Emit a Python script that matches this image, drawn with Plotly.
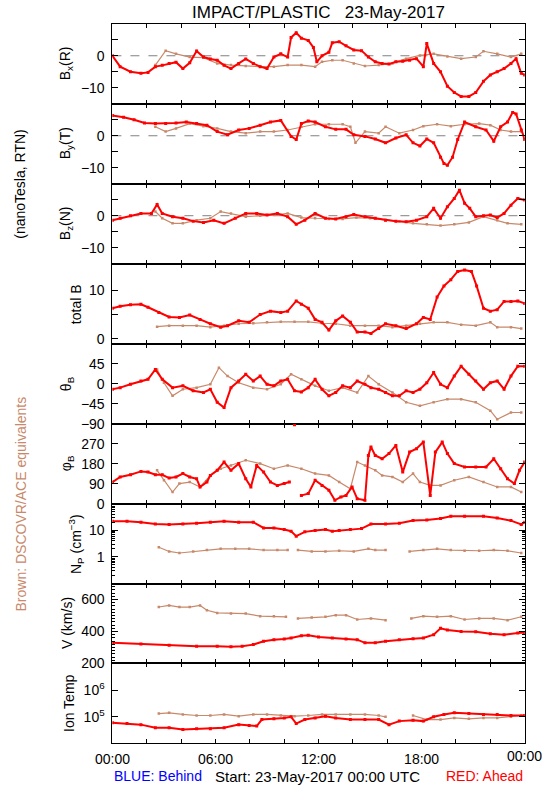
import plotly.graph_objects as go

# ---------------- data (hours since 23-May-2017 00:00 UTC) ----------------
bx_red_t = [0, 0.45, 1.05, 1.66, 2.07, 2.5, 2.9, 3.3, 3.7, 4.1, 4.5, 4.9, 5.3, 5.7, 6.1, 6.5, 6.9, 7.35, 7.76, 8.2, 8.6, 9.0, 9.4, 9.8, 10.2, 10.4, 10.7, 11.0, 11.4, 11.7, 11.9, 12.2, 12.6, 12.8, 13.2, 13.6, 14.05, 14.5, 14.9, 15.3, 15.7, 16.1, 16.5, 16.9, 17.3, 17.7, 18.1, 18.3, 18.7, 19.1, 19.5, 19.9, 20.3, 20.75, 21.15, 21.6, 22.0, 22.4, 22.8, 23.2, 23.5, 23.8, 24.0]
bx_red = [0, -3.4, -5, -5.5, -5.2, -3.4, -3, -2.4, -2, -4, -2.2, 1.5, -0.4, -1, -1.4, -3, -4, -2.4, -1, -2.4, -3.4, -4, -0.4, 0.6, -0.4, 5.7, 7.2, 5.5, 4.8, 2.6, -1.9, 0, 1.1, 4.1, 4.4, 3.1, 1.8, 1.6, -0.4, -1.9, -2.4, -2.6, -1.9, -1.7, -1.4, -0.9, -3.4, 3.8, -2.4, -5, -9.5, -11.5, -12.7, -12.7, -11.5, -8, -6, -5, -4, -2.4, -0.9, -5.5, -6]
bx_brn_t = [2.5, 3.1, 3.7, 4.5, 5.3, 6.1, 6.9, 7.76, 8.6, 9.4, 10.2, 11.0, 11.8, 12.2, 12.8, 13.4, 14.05, 14.7, 15.5, 16.3, 17.1, 17.9, 18.7, 19.5, 20.3, 21.15, 21.6, 22.4, 23.2, 23.8]
bx_brn = [-2.9, 1.6, 0.6, -0.4, -0.6, -2.4, -2.9, -3.2, -3.4, -3.4, -2.9, -2.9, -3.4, -1.9, -1.4, -1.4, -2.4, -3.2, -2.9, -2.4, -0.9, 0.1, 0.6, -0.2, -0.9, -0.4, 1.4, 0.6, -0.4, 0.6]

by_red_t = [0, 0.65, 1.26, 1.87, 2.5, 3.1, 3.7, 4.3, 4.9, 5.5, 6.1, 6.7, 7.35, 7.96, 8.6, 9.2, 9.8, 10.4, 10.7, 11.0, 11.4, 11.8, 12.4, 13.0, 13.6, 14.05, 14.7, 15.3, 15.9, 16.5, 17.1, 17.5, 17.9, 18.3, 18.7, 19.1, 19.3, 19.5, 19.8, 20.1, 20.5, 21.15, 21.75, 22.2, 22.6, 23.0, 23.3, 23.5, 23.8, 24.0]
by_red = [6.3, 5.8, 5, 4, 3.8, 3.8, 4, 4.3, 3.8, 3.3, 1.3, 0.3, 1.8, 2.3, 3.3, 4.3, 4.8, -0.2, -1.2, 3.8, 4.6, 4.3, 2.8, 2, 2, 0.3, -0.2, -1, -2.2, -0.7, 0.3, -2.2, -3.2, -1, -2.2, -6.7, -8.7, -9.2, -6.7, -1.2, 4.3, 2.8, 1.8, -1.7, 2.8, 4.3, 7.3, 6.8, 1.8, -1.2]
by_brn_t = [2.5, 3.1, 3.7, 4.5, 5.3, 6.1, 6.9, 7.76, 8.6, 9.4, 10.2, 11.0, 11.8, 12.6, 13.4, 13.85, 14.15, 14.7, 15.5, 15.9, 16.7, 17.5, 18.1, 18.9, 19.7, 20.5, 21.35, 22.0, 22.6, 23.2, 23.8]
by_brn = [2.8, 1.3, 2.3, 3.8, 3, 2.3, 1.3, 0.8, 1.3, 1.3, 1.8, 2.8, 3.6, 3.6, 3.6, 2.8, -2.2, 1.3, 0.8, 2.8, 0.8, 1.8, 3, 3.6, 3, 3.6, 3.8, 3.3, 1.8, 1.3, 1.3]

bz_red_t = [0, 0.45, 1.05, 1.66, 2.27, 2.6, 2.9, 3.5, 4.1, 4.7, 5.3, 5.9, 6.5, 7.15, 7.76, 8.4, 9.0, 9.6, 10.2, 10.7, 11.2, 11.8, 12.4, 13.0, 13.6, 14.05, 14.7, 15.3, 15.9, 16.5, 17.1, 17.7, 18.3, 18.7, 19.1, 19.5, 19.9, 20.2, 20.5, 20.8, 21.15, 21.6, 22.0, 22.4, 22.8, 23.2, 23.6, 24.0]
bz_red = [-1.4, -0.8, 0, 0.7, 0.7, 3.5, 0.7, -0.3, -0.8, -1.7, -2.1, -1.4, -2.4, -0.8, 0.7, 0.7, 0.2, 0.7, -0.3, -2.7, -1.4, 0.7, -0.8, -1, -0.3, 0.4, -0.3, -0.8, -1.4, -1.7, -1.9, -1.4, -0.3, 2.3, -0.8, 2.8, 5.4, 8, 3.9, 2.3, -0.3, 0, 0.2, -0.6, 0.7, 3.3, 5.4, 4.9]
bz_brn_t = [2.5, 2.9, 3.5, 4.1, 4.9, 5.7, 6.3, 6.9, 7.76, 8.6, 9.4, 10.2, 11.0, 11.8, 12.6, 13.4, 14.2, 15.0, 15.9, 16.7, 17.5, 18.3, 19.1, 19.9, 20.75, 21.6, 22.4, 23.0, 23.8]
bz_brn = [1.3, -0.8, -2.4, -2.4, -1.4, -0.8, 1.3, 0.7, -0.3, 0, 0.2, 0.7, -0.6, -0.8, -1, -1, -0.6, -0.8, -1.4, -1.7, -2.4, -2.7, -3.1, -2.7, -2.1, -0.3, -1.4, -2.4, -2.7]

bt_red_t = [0, 0.45, 1.05, 1.66, 2.07, 2.7, 3.3, 3.9, 4.5, 5.1, 5.7, 6.3, 6.7, 7.35, 7.96, 8.6, 9.2, 9.8, 10.2, 10.7, 11.0, 11.4, 11.8, 12.2, 12.6, 13.0, 13.4, 13.85, 14.25, 14.7, 15.05, 15.5, 15.9, 16.5, 17.1, 17.7, 18.1, 18.5, 18.9, 19.3, 19.7, 20.1, 20.5, 20.9, 21.2, 21.6, 22.0, 22.4, 22.8, 23.2, 23.6, 24.0]
bt_red = [6.3, 6.7, 7, 7.1, 6.5, 5.4, 4.5, 4.4, 4.9, 4, 3.1, 2.4, 2.7, 3.7, 3.4, 5, 5.7, 5.4, 5.7, 7.8, 7.1, 6.3, 4, 3.4, 1.8, 3.7, 4.7, 3.4, 1.4, 1.4, 1.1, 2.1, 3.1, 2.7, 2.1, 3.1, 4.4, 4, 8.6, 10.9, 12.2, 13.9, 14.2, 13.9, 10.9, 6.3, 5.7, 6, 7.7, 7.7, 7.8, 7.3]
bt_brn_t = [2.6, 3.3, 4.1, 4.9, 5.7, 6.5, 7.35, 8.2, 9.0, 9.8, 10.6, 11.4, 12.2, 13.0, 13.85, 14.7, 15.5, 16.3, 17.1, 17.9, 18.7, 19.5, 20.3, 21.15, 22.0, 22.4, 23.2, 23.8]
bt_brn = [2.5, 2.7, 2.7, 2.7, 2.4, 2.7, 3.1, 3.2, 3.4, 3.5, 3.5, 3.5, 3.2, 3.1, 2.7, 2.7, 2.7, 2.4, 2.7, 3.1, 3.4, 3.4, 2.9, 2.7, 3.4, 2.4, 2.4, 2.1]

th_red_t = [0, 0.45, 1.05, 1.66, 2.07, 2.5, 2.9, 3.5, 4.1, 4.7, 5.3, 5.7, 6.1, 6.5, 6.9, 7.35, 7.76, 8.2, 8.6, 9.0, 9.4, 9.8, 10.2, 10.6, 11.0, 11.4, 11.8, 12.2, 12.6, 13.0, 13.4, 13.85, 14.25, 14.7, 15.05, 15.5, 15.9, 16.3, 16.7, 17.1, 17.5, 17.9, 18.3, 18.7, 19.1, 19.5, 19.9, 20.3, 20.75, 21.15, 21.6, 22.0, 22.4, 22.8, 23.2, 23.6, 24.0]
th_red = [-12.6, -9, -1.5, 6, 9.7, 32, 9.7, -9, -5, -16, -20, -12.6, -42, -54, -9, 6, 21, 6, 17, -1.5, -5, 6, 9.7, -16, -18.6, -9, 9.7, -12.6, -27.5, -20, -5, -9, 6, -1.5, -9, -12.6, -20, -27.5, -27.5, -16, -20, -12.6, 2, 25, -1.5, -9, 17, 39, 21, 6, -12.6, 2, 6, -12.6, 17, 39, 39]
th_brn_t = [2.6, 3.0, 3.5, 4.1, 4.9, 5.7, 6.2, 6.7, 7.35, 8.2, 9.0, 9.8, 10.4, 11.0, 11.8, 12.6, 13.4, 14.25, 14.9, 15.5, 16.3, 17.1, 17.9, 18.7, 19.5, 20.3, 21.15, 22.0, 22.4, 23.2, 23.8]
th_brn = [32, 2, -27.5, -12.6, -9, -1.5, 36, 17, 2, -9, -12.6, -1.5, 21, 9.7, -5, -16, -9, -20, 17, -1.5, -20, -42, -50, -42, -35, -35, -42, -61, -80, -65, -65]

ph_red_t = [0, 0.45, 1.05, 1.66, 2.07, 2.5, 2.9, 3.3, 3.7, 4.1, 4.5, 4.9, 5.1, 5.5, 5.7, 6.1, 6.5, 6.9, 7.35, 7.76, 8.06, 8.4, 8.8, 9.2, 9.6, 10.0, 10.3, 10.45, 10.6, 10.75, 11.0, 11.4, 11.8, 12.2, 12.6, 12.95, 13.3, 13.6, 13.95, 14.25, 14.7, 14.9, 15.05, 15.3, 15.7, 16.1, 16.5, 16.9, 17.3, 17.7, 18.1, 18.5, 18.8, 19.2, 19.5, 19.9, 20.5, 21.15, 21.75, 22.2, 22.6, 23.0, 23.4, 23.7, 24.0]
ph_red = [97, 120, 130, 145, 142, 130, 130, 115, 120, 135, 120, 112, 75, 97, 127, 150, 187, 150, 180, 112, 75, 172, 142, 97, 82, 90, 97, None, 355, None, 37, 45, 105, 82, 60, 15, 30, 37, 75, 22, 15, 217, 255, 217, 202, 225, 262, 142, 232, 247, 277, 37, 232, 277, 225, 180, 165, 165, 165, 202, 157, 112, 90, 150, 187]
ph_brn_t = [2.6, 3.0, 3.5, 3.9, 4.5, 5.1, 5.7, 6.3, 6.9, 7.76, 8.6, 9.4, 10.2, 11.0, 11.8, 12.6, 13.2, 13.85, 14.25, 14.7, 15.3, 15.7, 16.3, 16.9, 17.5, 17.9, 18.5, 19.1, 19.9, 20.75, 21.6, 22.4, 23.2, 23.8]
ph_brn = [150, 105, 52, 90, 97, 75, 127, 157, 172, 195, 180, 157, 172, 157, 135, 127, 97, 67, 187, 172, 150, 127, 120, 97, 135, 97, 82, 82, 105, 120, 97, 75, 75, 52]

np_red_t = [0, 0.85, 1.66, 2.5, 3.3, 4.1, 4.9, 5.7, 6.5, 7.35, 8.2, 8.8, 9.4, 10.0, 10.4, 10.7, 11.2, 11.8, 12.4, 12.8, 13.2, 13.85, 14.5, 15.05, 15.9, 16.7, 17.5, 18.3, 19.1, 19.7, 20.5, 21.6, 22.4, 23.2, 23.8, 24.0]
np_red = [21.7, 21.7, 20, 17, 16.5, 17, 18.5, 20, 21.7, 20, 20, 12.2, 12.2, 10.6, 9.2, 6, 8.7, 9.7, 10.6, 9.2, 9.7, 10.6, 11.5, 17, 17, 18.5, 23, 24.4, 27.5, 33.5, 33.5, 33.5, 29, 23, 16.5, 20]
np_brn_t = [2.7, 3.3, 3.9, 4.7, 5.5, 6.3, 7.15, 7.96, 8.8, 9.6, 10.2, 10.5, 10.8, 11.6, 12.4, 13.2, 14.05, 14.9, 15.3, 15.9, 16.6, 17.3, 18.1, 18.9, 19.7, 20.5, 21.35, 22.2, 23.0, 23.8]
np_brn = [2.3, 1.6, 1.4, 1.6, 1.8, 2.0, 2.0, 2.0, 1.8, 1.8, 1.8, None, 1.8, 1.6, 1.6, 1.7, 1.6, 2.0, 1.8, 1.8, None, 1.6, 1.8, 2.0, 1.8, 1.7, 1.7, 1.8, 1.7, 1.4]

v_red_t = [0, 1.66, 3.3, 4.9, 6.1, 6.9, 7.55, 8.2, 8.8, 9.4, 10.0, 10.4, 11.0, 11.4, 12.0, 12.8, 13.6, 14.25, 14.7, 15.3, 15.9, 16.7, 17.5, 18.1, 18.7, 19.1, 19.5, 20.3, 21.15, 22.0, 22.8, 23.6, 24.0]
v_red = [329, 322, 314, 308, 308, 304, 308, 318, 339, 349, 353, 359, 373, 376, 365, 359, 353, 349, 329, 329, 339, 349, 355, 359, 380, 420, 410, 400, 398, 386, 380, 390, 394]
v_brn_t = [2.7, 3.3, 3.9, 4.5, 5.1, 5.5, 6.1, 6.9, 7.76, 8.6, 9.4, 10.1, 10.45, 10.8, 11.6, 12.4, 13.0, 13.6, 14.25, 15.05, 15.9, 16.6, 17.4, 18.1, 18.9, 19.7, 20.5, 21.35, 22.2, 23.0, 23.8]
v_brn = [553, 563, 553, 553, 563, 533, 516, 512, 512, 496, 496, 492, None, 482, 488, 492, 502, 502, 475, 482, 471, None, 482, 496, 492, 496, 475, 482, 482, 471, 492]

tp_red_t = [0, 0.85, 1.66, 2.5, 3.3, 4.1, 4.9, 5.7, 6.5, 7.35, 7.96, 8.4, 8.7, 9.4, 10.0, 10.4, 10.7, 11.2, 11.8, 12.4, 13.0, 13.85, 14.7, 15.5, 16.1, 16.7, 17.5, 18.1, 18.7, 19.3, 19.9, 20.75, 21.6, 22.4, 23.2, 24.0]
tp_red = [60000, 56000, 51000, 39000, 39000, 33500, 35500, 35500, 39000, 51000, 47000, 45000, 79000, 84000, 91000, 100000, 56000, 79000, 91000, 106000, 91000, 79000, 79000, 79000, 51000, 69000, 75000, 69000, 100000, 123000, 141000, 133000, 123000, 123000, 112000, 112000]
tp_brn_t = [2.7, 3.3, 4.1, 4.9, 5.7, 6.5, 7.35, 8.2, 9.0, 9.8, 10.6, 11.4, 12.2, 13.0, 13.85, 14.7, 15.5, 15.9, 16.6, 17.5, 18.3, 19.1, 19.9, 20.75, 21.6, 22.4, 23.2, 23.8]
tp_brn = [133000, 141000, 123000, 112000, 112000, 123000, 106000, 123000, 123000, 112000, 106000, 112000, 123000, 123000, 123000, 123000, 112000, 100000, None, 112000, 79000, 79000, 91000, 84000, 91000, 91000, 100000, 112000]

hour_major = [0, 6, 12, 18]
hour_major_labels = ["00:00", "06:00", "12:00", "18:00"]
end_label = "00:00"
hour_minor = [2, 4, 8, 10, 14, 16, 20, 22, 24]

panel_titles = ["B<sub>x</sub>(R)", "B<sub>y</sub>(T)", "B<sub>z</sub>(N)", "total B",
                "θ<sub>B</sub>", "φ<sub>B</sub>", "N<sub>P</sub> (cm<sup>−3</sup>)",
                "V (km/s)", "Ion Temp"]

# ---------------- figure ----------------
W, H = 550, 800
# the captured picture maps page x to about 17.4 + 0.969*x; place things by their target picture x
SX, OX = 0.969, 17.4


def fx(x_target):
    return (x_target - OX) / SX / W


X0, X1 = 112, 525
edges = [24, 104.8, 185.6, 266.3, 347.1, 427.9, 508.7, 589.4, 670.2, 751]
title_x = [65, 65, 65, 75, 66, 66, 75, 66, 69]

RED = "#ff0000"
BRN = "#c8896b"
FONT = "Liberation Sans"

series = [
    (bx_brn_t, bx_brn, bx_red_t, bx_red),
    (by_brn_t, by_brn, by_red_t, by_red),
    (bz_brn_t, bz_brn, bz_red_t, bz_red),
    (bt_brn_t, bt_brn, bt_red_t, bt_red),
    (th_brn_t, th_brn, th_red_t, th_red),
    (ph_brn_t, ph_brn, ph_red_t, ph_red),
    (np_brn_t, np_brn, np_red_t, np_red),
    (v_brn_t, v_brn, v_red_t, v_red),
    (tp_brn_t, tp_brn, tp_red_t, tp_red),
]

fig = go.Figure()
for i, (bt, bv, rt, rv) in enumerate(series):
    n = i + 1
    xa, ya = ("x" if n == 1 else f"x{n}"), ("y" if n == 1 else f"y{n}")
    fig.add_trace(go.Scatter(x=bt, y=bv, xaxis=xa, yaxis=ya, mode="lines+markers",
                             line=dict(color=BRN, width=1.2), marker=dict(color=BRN, size=2.5, symbol="square"),
                             connectgaps=False, showlegend=False, hoverinfo="skip"))
    fig.add_trace(go.Scatter(x=rt, y=rv, xaxis=xa, yaxis=ya, mode="lines+markers",
                             line=dict(color=RED, width=2), marker=dict(color=RED, size=3, symbol="square"),
                             connectgaps=False, showlegend=False, hoverinfo="skip"))

MINOR = dict(ticks="inside", ticklen=6, tickcolor="black", showgrid=False)
yconf = [
    dict(range=[-15, 10], tickvals=[-10, 0], ticktext=["−10", "0"], minor=dict(MINOR, tickvals=[-5, 5])),
    dict(range=[-15, 10], tickvals=[-10, 0], ticktext=["−10", "0"], minor=dict(MINOR, tickvals=[-5, 5])),
    dict(range=[-15, 10], tickvals=[-10, 0], ticktext=["−10", "0"], minor=dict(MINOR, tickvals=[-5, 5])),
    dict(range=[-1, 15.5], tickvals=[0, 10], ticktext=["0", "10"], minor=dict(MINOR, tickvals=[5])),
    dict(range=[-90, 90], tickvals=[-90, -45, 0, 45], ticktext=["−90", "−45", "0", "45"]),
    dict(range=[0, 360], tickvals=[0, 90, 180, 270], ticktext=["0", "90", "180", "270"]),
    dict(type="log", range=[-1, 2], tickvals=[1, 10], ticktext=["1", "10"],
         minor=dict(ticks="inside", ticklen=3, tickcolor="black", dtick="D1", showgrid=False)),
    dict(range=[200, 700], tickvals=[200, 400, 600], ticktext=["200", "400", "600"],
         minor=dict(ticks="inside", ticklen=3, tickcolor="black", dtick=20, showgrid=False)),
    dict(type="log", range=[4, 7], tickvals=[1e5, 1e6], ticktext=["10<sup>5</sup>", "10<sup>6</sup>"]),
]

layout = dict(width=W, height=H, autosize=False, margin=dict(l=0, r=0, t=0, b=0, pad=0),
              paper_bgcolor="white", plot_bgcolor="white",
              font=dict(family=FONT, size=14, color="black"))
for i in range(9):
    n = i + 1
    top, bot = edges[i], edges[i + 1]
    xkey = "xaxis" if n == 1 else f"xaxis{n}"
    ykey = "yaxis" if n == 1 else f"yaxis{n}"
    layout[xkey] = dict(domain=[fx(X0), min(fx(X1), 1.0)], range=[0, 24], anchor="y" if n == 1 else f"y{n}",
                        showline=True, linecolor="black", linewidth=1, mirror="ticks",
                        ticks="inside", ticklen=4, tickcolor="black",
                        tickvals=hour_major, ticktext=hour_major_labels,
                        minor=dict(ticks="inside", ticklen=4, tickcolor="black", tickvals=hour_minor, showgrid=False),
                        showticklabels=(n == 9), showgrid=False, zeroline=False,
                        ticklabelstandoff=3,
                        tickfont=dict(family=FONT, size=14, color="black"))
    yc = dict(domain=[1 - bot / H, 1 - top / H], anchor="x" if n == 1 else f"x{n}",
              showline=True, linecolor="black", linewidth=1, mirror="ticks",
              ticks="inside", ticklen=6, tickcolor="black", showgrid=False, zeroline=False,
              ticklabelstandoff=4, tickfont=dict(family=FONT, size=14, color="black"))
    yc.update(yconf[i])
    layout[ykey] = yc

fig.update_layout(**layout)

# dashed zero lines for B components
for n in (1, 2, 3):
    fig.add_shape(type="line", xref=("x domain" if n == 1 else f"x{n} domain"), x0=0, x1=1,
                  yref=("y" if n == 1 else f"y{n}"), y0=0, y1=0,
                  line=dict(color="#808080", width=1, dash="dash"), layer="below")

# end-of-day time label at the right end of the bottom axis
fig.add_annotation(x=24, y=1 - 764 / H, xref="x9", yref="paper", text=end_label, showarrow=False,
                   xanchor="center", yanchor="middle", font=dict(family=FONT, size=14, color="black"))

# panel titles
for i in range(9):
    yc = 1 - (edges[i] + edges[i + 1]) / 2 / H
    fig.add_annotation(x=fx(title_x[i]), y=yc, xref="paper", yref="paper", text=panel_titles[i],
                       textangle=-90, showarrow=False, xanchor="center", yanchor="middle",
                       font=dict(family=FONT, size=14, color="black"))

NB = "\u00a0"
fig.add_annotation(x=fx(318), y=1 - 12.5 / H, xref="paper", yref="paper",
                   text=f"IMPACT/PLASTIC{NB*3}23-May-2017", showarrow=False,
                   xanchor="center", yanchor="middle", font=dict(family=FONT, size=17, color="black"))
fig.add_annotation(x=fx(20), y=1 - 186 / H, xref="paper", yref="paper", text="(nanoTesla, RTN)",
                   textangle=-90, showarrow=False, xanchor="center", yanchor="middle",
                   font=dict(family=FONT, size=14, color="black"))
fig.add_annotation(x=fx(20), y=1 - 509 / H, xref="paper", yref="paper", text="Brown: DSCOVR/ACE equivalents",
                   textangle=-90, showarrow=False, xanchor="center", yanchor="middle",
                   font=dict(family=FONT, size=14, color=BRN))
fig.add_annotation(x=fx(112), y=1 - 784 / H, xref="paper", yref="paper", text="BLUE: Behind",
                   showarrow=False, xanchor="left", yanchor="middle",
                   font=dict(family=FONT, size=14, color="#0000ff"))
fig.add_annotation(x=fx(317), y=1 - 784 / H, xref="paper", yref="paper",
                   text="Start: 23-May-2017 00:00 UTC", showarrow=False,
                   xanchor="center", yanchor="middle", font=dict(family=FONT, size=15, color="black"))
fig.add_annotation(x=fx(525), y=1 - 784 / H, xref="paper", yref="paper", text="RED: Ahead",
                   showarrow=False, xanchor="right", yanchor="middle",
                   font=dict(family=FONT, size=14, color=RED))

fig.write_html("out.html", config={"displayModeBar": False},
               post_script="document.body.style.margin='0';document.body.style.overflow='hidden';")
